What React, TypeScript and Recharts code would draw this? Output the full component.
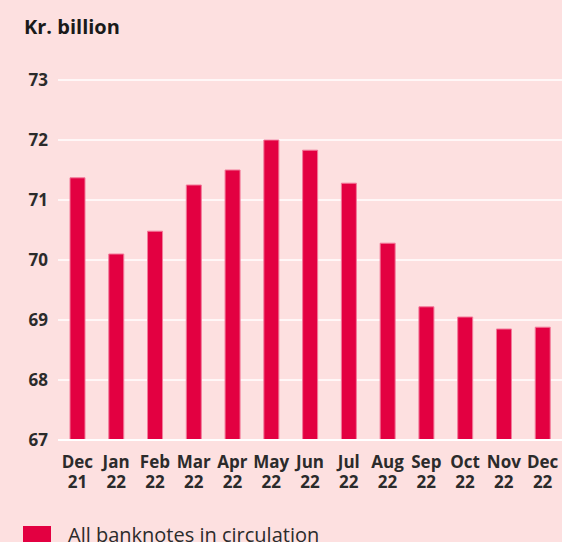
import React from 'react';
import { BarChart, Bar, XAxis, YAxis, CartesianGrid } from 'recharts';

const months = ['Dec', 'Jan', 'Feb', 'Mar', 'Apr', 'May', 'Jun', 'Jul', 'Aug', 'Sep', 'Oct', 'Nov', 'Dec'];
const years = ['21', '22', '22', '22', '22', '22', '22', '22', '22', '22', '22', '22', '22'];
const banknotes = [71.37, 70.1, 70.48, 71.25, 71.5, 72.0, 71.83, 71.28, 70.28, 69.22, 69.05, 68.85, 68.88];
const yTicks = [67, 68, 69, 70, 71, 72, 73];

const data = months.map((m, i) => ({ label: `${m} ${years[i]}`, value: banknotes[i] }));

const FONT = '"Open Sans", "Noto Sans", sans-serif';
const TEXT = '#2b2b2b';

const MonthTick = (props: any) => {
  const { x, y, payload } = props;
  const [m, yr] = String(payload.value).split(' ');
  const common = { textAnchor: 'middle' as const, fill: TEXT, fontSize: 17, fontWeight: 700, fontFamily: FONT };
  return (
    <g>
      <text x={x} y={y + 22} {...common}>{m}</text>
      <text x={x} y={y + 42} {...common}>{yr}</text>
    </g>
  );
};

export default function App() {
  return (
    <div style={{ position: 'fixed', left: 0, top: 0, width: 562, height: 542, background: '#fde0e0', overflow: 'hidden', fontFamily: FONT }}>
      <div style={{ position: 'absolute', left: 24, top: 13, fontSize: 20, fontWeight: 700, color: '#1a1a1a' }}>
        Kr. billion
      </div>
      <BarChart
        width={562}
        height={500}
        data={data}
        margin={{ top: 80, right: 0, left: 0, bottom: 30 }}
        style={{ position: 'absolute', left: 0, top: 0 }}
      >
        <CartesianGrid vertical={false} stroke="#ffffff" strokeWidth={1.5} />
        <YAxis
          domain={[67, 73]}
          ticks={yTicks}
          width={58}
          axisLine={false}
          tickLine={false}
          tickSize={0}
          tickMargin={10}
          tick={{ fill: TEXT, fontSize: 17, fontWeight: 700, fontFamily: FONT }}
        />
        <XAxis
          dataKey="label"
          height={30}
          axisLine={{ stroke: '#ffffff', strokeWidth: 2 }}
          tickLine={false}
          tickSize={0}
          tickMargin={6}
          interval={0}
          tick={<MonthTick />}
        />
        <Bar dataKey="value" fill="#e30041" stroke="#f27a9a" strokeWidth={1} barSize={15} isAnimationActive={false} />
      </BarChart>
      <div style={{ position: 'absolute', left: 23, top: 526, width: 28, height: 20, background: '#e30041' }} />
      <div style={{ position: 'absolute', left: 68, top: 521, fontSize: 20, color: TEXT, whiteSpace: 'nowrap' }}>
        All banknotes in circulation
      </div>
    </div>
  );
}
